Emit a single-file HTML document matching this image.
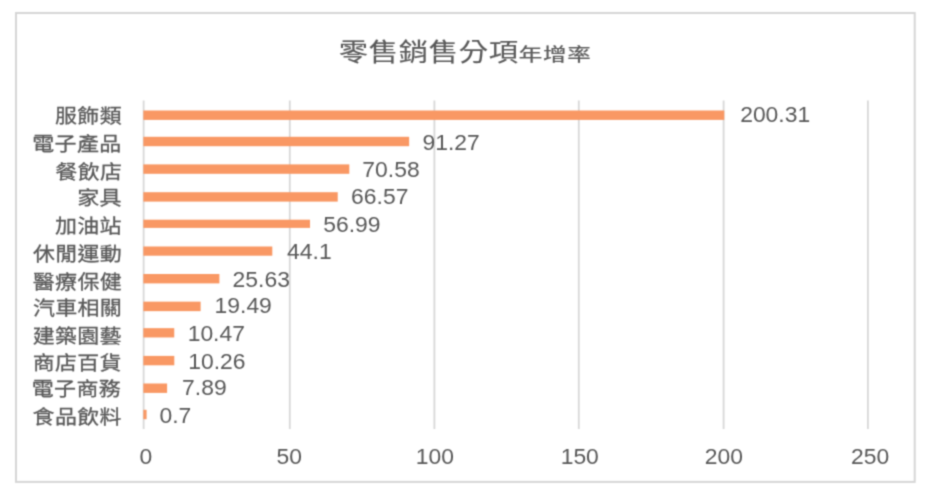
<!DOCTYPE html>
<html lang="zh-Hant">
<head>
<meta charset="utf-8">
<title>零售銷售分項年增率</title>
<style>
html,body{margin:0;padding:0;background:#fff;}
body{width:930px;height:494px;overflow:hidden;}
svg{display:block;}
text{font-family:"Liberation Sans","Noto Sans CJK TC",sans-serif;fill:#595959;}
</style>
</head>
<body>
<svg width="930" height="494" viewBox="0 0 930 494">
<rect x="0" y="0" width="930" height="494" fill="#ffffff"/>
<defs><filter id="soft" x="0" y="0" width="930" height="494" filterUnits="userSpaceOnUse" color-interpolation-filters="sRGB"><feConvolveMatrix order="3" kernelMatrix="0.03607 0.11778 0.03607 0.11778 0.38462 0.11778 0.03607 0.11778 0.03607" edgeMode="duplicate" preserveAlpha="true"/></filter></defs>
<g filter="url(#soft)">
<rect x="0" y="0" width="930" height="494" fill="#ffffff"/>
<rect x="16.00" y="13.00" width="898.70" height="468.90" fill="#fff" stroke="#d6d6d6" stroke-width="2.00"/>
<g stroke="#d8d8d8" stroke-width="1.80">
<line x1="143.65" y1="100.60" x2="143.65" y2="428.90"/>
<line x1="289.80" y1="100.60" x2="289.80" y2="428.90"/>
<line x1="434.40" y1="100.60" x2="434.40" y2="428.90"/>
<line x1="578.80" y1="100.60" x2="578.80" y2="428.90"/>
<line x1="723.60" y1="100.60" x2="723.60" y2="428.90"/>
<line x1="867.90" y1="100.60" x2="867.90" y2="428.90"/>
</g>
<g fill="#f99864">
<rect x="143.35" y="110.50" width="580.95" height="9.40"/>
<rect x="143.35" y="136.80" width="265.80" height="9.40"/>
<rect x="143.35" y="164.40" width="205.97" height="9.40"/>
<rect x="143.35" y="192.20" width="194.37" height="9.40"/>
<rect x="143.35" y="219.70" width="166.67" height="8.20"/>
<rect x="143.35" y="246.50" width="128.95" height="9.20"/>
<rect x="143.35" y="274.00" width="76.05" height="9.40"/>
<rect x="143.35" y="301.65" width="57.27" height="9.50"/>
<rect x="143.35" y="328.15" width="30.90" height="9.30"/>
<rect x="143.35" y="355.90" width="30.95" height="9.40"/>
<rect x="143.35" y="383.50" width="23.75" height="9.40"/>
<rect x="143.35" y="409.80" width="3.25" height="9.40"/>
</g>
<g font-size="22" letter-spacing="0.3" stroke="#595959" stroke-width="0.3">
<text transform="translate(55.08 123.48) scale(1.0000 0.8700)">服飾類</text>
<text transform="translate(32.30 151.15) scale(1.0000 0.8700)">電子產品</text>
<text transform="translate(55.35 179.18) scale(1.0000 0.8700)">餐飲店</text>
<text transform="translate(77.28 205.38) scale(1.0000 0.8700)">家具</text>
<text transform="translate(54.90 233.05) scale(1.0000 0.8700)">加油站</text>
<text transform="translate(33.00 260.60) scale(1.0000 0.8700)">休閒運動</text>
<text transform="translate(32.80 288.75) scale(1.0000 0.8700)">醫療保健</text>
<text transform="translate(32.92 314.75) scale(1.0000 0.8700)">汽車相關</text>
<text transform="translate(32.72 342.55) scale(1.0000 0.8700)">建築園藝</text>
<text transform="translate(32.70 370.25) scale(1.0000 0.8700)">商店百貨</text>
<text transform="translate(31.80 396.45) scale(1.0000 0.8700)">電子商務</text>
<text transform="translate(32.60 424.28) scale(1.0000 0.8700)">食品飲料</text>
</g>
<g font-size="21.3" stroke="none" stroke-width="0">
<text transform="translate(740.15 121.52) scale(1.0750 1.0000)">200.31</text>
<text transform="translate(422.42 149.67) scale(1.0750 1.0000)">91.27</text>
<text transform="translate(362.32 177.22) scale(1.0750 1.0000)">70.58</text>
<text transform="translate(351.08 203.65) scale(1.0750 1.0000)">66.57</text>
<text transform="translate(323.18 231.68) scale(1.0750 1.0000)">56.99</text>
<text transform="translate(287.10 259.33) scale(1.0750 1.0000)">44.1</text>
<text transform="translate(232.58 286.83) scale(1.0750 1.0000)">25.63</text>
<text transform="translate(214.55 313.38) scale(1.0750 1.0000)">19.49</text>
<text transform="translate(187.65 341.18) scale(1.0750 1.0000)">10.47</text>
<text transform="translate(188.25 368.78) scale(1.0750 1.0000)">10.26</text>
<text transform="translate(182.10 395.08) scale(1.0750 1.0000)">7.89</text>
<text transform="translate(159.45 423.18) scale(1.0750 1.0000)">0.7</text>
</g>
<g font-size="21.3" stroke="none" stroke-width="0">
<text transform="translate(139.43 463.83) scale(1.0750 1.0000)">0</text>
<text transform="translate(276.48 463.83) scale(1.0750 1.0000)">50</text>
<text transform="translate(415.75 463.83) scale(1.0750 1.0000)">100</text>
<text transform="translate(560.65 463.83) scale(1.0750 1.0000)">150</text>
<text transform="translate(704.72 463.68) scale(1.0750 1.0000)">200</text>
<text transform="translate(851.08 463.68) scale(1.0750 1.0000)">250</text>
</g>
<text transform="translate(338.80 60.88) scale(1.0000 0.8400)" font-size="29.4" letter-spacing="0.6" stroke="#595959" stroke-width="0.12">零售銷售分項</text>
<text transform="translate(518.85 60.70) scale(1.0000 0.7600)" font-size="23.5" letter-spacing="0.7" stroke="#595959" stroke-width="0.3">年增率</text>
</g>
</svg>
</body>
</html>
